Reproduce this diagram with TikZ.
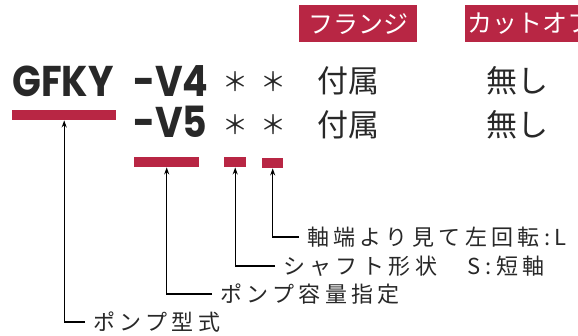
\documentclass[tikz,border=0pt]{standalone}
\usepackage{fontspec}
\setmainfont{Noto Sans CJK JP}
\newfontfamily\codefont{Poppins}[FakeStretch=0.88]
\newfontfamily\notefont{Noto Sans CJK JP}[LetterSpace=20]
\usepackage{tikz}
\usetikzlibrary{positioning, arrows.meta}

\definecolor{pumpred}{RGB}{184,38,68}
\definecolor{darktext}{RGB}{40,40,40}

\begin{document}
\begin{tikzpicture}[x=1pt, y=-1pt,
    header/.style={fill=pumpred, text=white, font=\fontsize{25}{25}\selectfont,
                   minimum height=37pt, inner sep=0pt, anchor=north west},
    code/.style={font=\codefont\bfseries\fontsize{43}{43}\selectfont, text=darktext,
                 inner sep=0pt, anchor=base west},
    star/.style={font=\fontsize{26}{26}\selectfont, text=darktext, inner sep=0pt},
    value/.style={font=\fontsize{31}{31}\selectfont, text=darktext, inner sep=0pt, anchor=west},
    bar/.style={fill=pumpred, inner sep=0pt, anchor=north west},
    note/.style={font=\notefont\fontsize{22}{22}\selectfont, text=darktext, inner xsep=8pt,
                 inner ysep=0pt, anchor=west},
    arrow/.style={-{Stealth[length=7pt, width=5pt]}, line width=1.3pt, draw=black}
]
    \useasboundingbox (0,0) rectangle (578,336);

    % Column headers
    \node[header, minimum width=118pt] (flange) at (299,5) {フランジ};
    \node[header, minimum width=130pt] (cutoff) at (465,5) {カットオフ};

    % Model code, first row
    \node[code] (gfky) at (12,97) {GFKY};
    \node[code] (v4) at (133,97) {-V4};
    \node[star] (stara) at (235,82) {＊};
    \node[star] (starb) at (273,82) {＊};
    \node[value] (flangea) at (317,81) {付属};
    \node[value] (cutoffa) at (486,81) {無し};

    % Model code, second row
    \node[code] (v5) at (133,138) {-V5};
    \node[star] (starc) at (235,125) {＊};
    \node[star] (stard) at (273,125) {＊};
    \node[value] (flangeb) at (317,125) {付属};
    \node[value] (cutoffb) at (486,125) {無し};

    % Marker bars
    \node[bar, minimum width=104pt, minimum height=10pt] (typebar) at (12,110) {};
    \node[bar, minimum width=65pt, minimum height=10pt] (volbar) at (134,157) {};
    \node[bar, minimum width=22pt, minimum height=10pt] (shaftbar) at (224,157) {};
    \node[bar, minimum width=21pt, minimum height=10pt] (rotbar) at (262,158) {};

    % Explanations
    \node[note] (rotnote) at (299,237) {軸端より見て左回転:L};
    \node[note] (shaftnote) at (275,266) {シャフト形状　S:短軸};
    \node[note] (volnote) at (212,294) {ポンプ容量指定};
    \node[note] (typenote) at (85,322) {ポンプ型式};

    % Leaders
    \draw[arrow] (rotnote.west) -| (rotbar.south);
    \draw[arrow] (shaftnote.west) -| (shaftbar.south);
    \draw[arrow] (volnote.west) -| (volbar.south);
    \draw[arrow] (typenote.west) -| (typebar.south);

\end{tikzpicture}
\end{document}
